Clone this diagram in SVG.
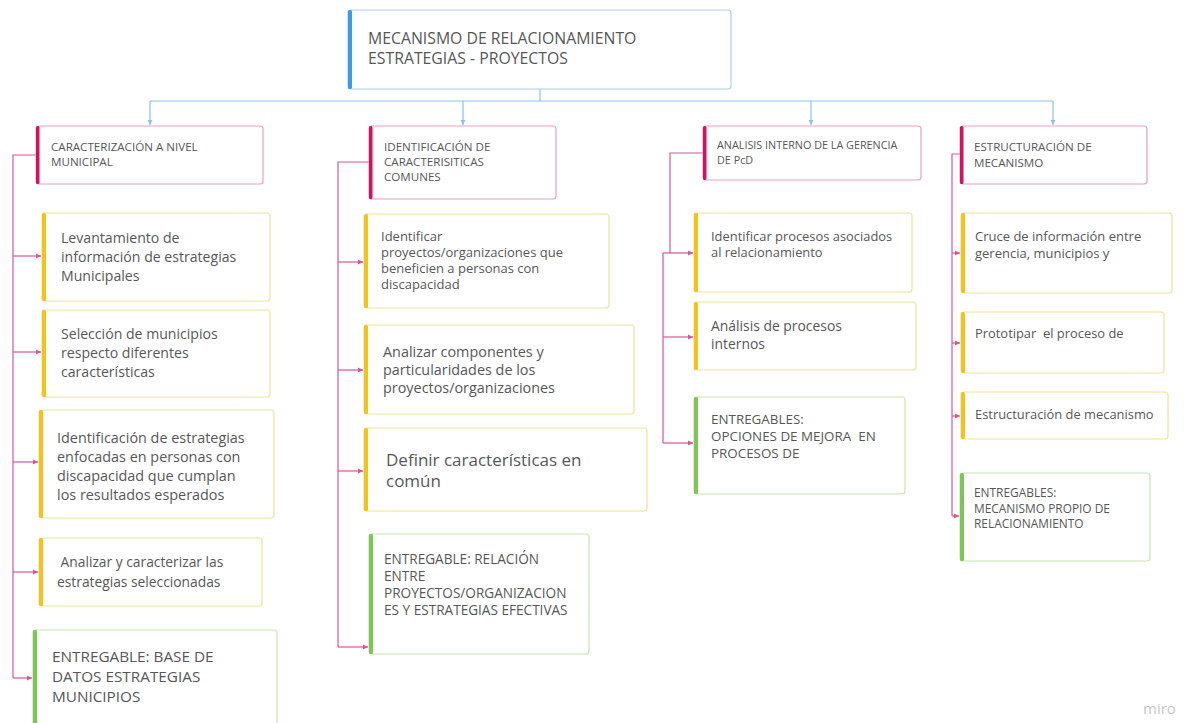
<svg xmlns="http://www.w3.org/2000/svg" width="1187" height="723" viewBox="0 0 1187 723">
<style>
.t{font-family:"Open Sans","Liberation Sans",sans-serif;fill:#575757;white-space:pre;}
.box{fill:#fff;stroke-width:1.2;}
.y{stroke:#efe29a;}
.g{stroke:#c8e4b2;}
.p{stroke:#e7a0c6;}
.b{stroke:#a9d0f0;}
.by{fill:#f2c31c;}
.bg{fill:#7cc654;}
.bp{fill:#d3115f;}
.bb{fill:#3d9be3;}
.pc{fill:none;stroke:#d9559a;stroke-width:1.2;}
.bc{fill:none;stroke:#8cc2ec;stroke-width:1.2;}
</style>
<defs>
<marker id="ap" markerWidth="6" markerHeight="6" refX="5" refY="3" orient="auto" markerUnits="userSpaceOnUse"><path d="M0,0.5 L5,3 L0,5.5 Z" fill="#d9559a"/></marker>
<marker id="ab" markerWidth="6" markerHeight="6" refX="5" refY="3" orient="auto" markerUnits="userSpaceOnUse"><path d="M0,0.5 L5,3 L0,5.5 Z" fill="#8cc2ec"/></marker>
</defs>
<rect width="1187" height="723" fill="#fff"/>
<g id="connectors">
<path class="bc" d="M540,89 V101"/>
<path class="bc" d="M150,101 H1053"/>
<path class="bc" d="M150,101 V125" marker-end="url(#ab)"/>
<path class="bc" d="M463,101 V125" marker-end="url(#ab)"/>
<path class="bc" d="M811,101 V125" marker-end="url(#ab)"/>
<path class="bc" d="M1053,101 V125" marker-end="url(#ab)"/>
<path class="pc" d="M36,155 H13 V678"/>
<path class="pc" d="M13,256 H41" marker-end="url(#ap)"/>
<path class="pc" d="M13,352 H41" marker-end="url(#ap)"/>
<path class="pc" d="M13,462 H38" marker-end="url(#ap)"/>
<path class="pc" d="M13,572 H38" marker-end="url(#ap)"/>
<path class="pc" d="M13,678 H32" marker-end="url(#ap)"/>
<path class="pc" d="M369,162 H338 V647"/>
<path class="pc" d="M338,262 H363" marker-end="url(#ap)"/>
<path class="pc" d="M338,370 H363" marker-end="url(#ap)"/>
<path class="pc" d="M338,471 H363" marker-end="url(#ap)"/>
<path class="pc" d="M338,647 H368" marker-end="url(#ap)"/>
<path class="pc" d="M703,153 H670 V253"/>
<path class="pc" d="M663,253 V443"/>
<path class="pc" d="M663,253 H693" marker-end="url(#ap)"/>
<path class="pc" d="M663,337 H693" marker-end="url(#ap)"/>
<path class="pc" d="M663,443 H693" marker-end="url(#ap)"/>
<path class="pc" d="M960,154 H952 V516"/>
<path class="pc" d="M952,253 H960" marker-end="url(#ap)"/>
<path class="pc" d="M952,343 H960" marker-end="url(#ap)"/>
<path class="pc" d="M952,416 H960" marker-end="url(#ap)"/>
<path class="pc" d="M952,516 H959" marker-end="url(#ap)"/>
</g>
<g id="root">
<rect class="box b" x="348" y="10" width="383" height="79" rx="3"/>
<rect class="bb" x="348" y="10" width="4" height="79" rx="1.5"/>
<text class="t" font-size="15.8" x="368" y="44">MECANISMO DE RELACIONAMIENTO</text>
<text class="t" font-size="15.8" x="368" y="64">ESTRATEGIAS - PROYECTOS</text>
</g>
<g id="h1">
<rect class="box p" x="36" y="126" width="227" height="58" rx="3"/>
<rect class="bp" x="36" y="126" width="3.5" height="58" rx="1.5"/>
<text class="t" font-size="11.6" x="51" y="151">CARACTERIZACIÓN A NIVEL</text>
<text class="t" font-size="11.6" x="51" y="166">MUNICIPAL</text>
</g>
<g id="n1a">
<rect class="box y" x="42" y="213" width="228" height="88" rx="3"/>
<rect class="by" x="42" y="213" width="4" height="88" rx="1.5"/>
<text class="t" font-size="14.1" x="61" y="243">Levantamiento de</text>
<text class="t" font-size="14.1" x="61" y="262">información de estrategias</text>
<text class="t" font-size="14.1" x="61" y="281">Municipales</text>
</g>
<g id="n1b">
<rect class="box y" x="42" y="310" width="228" height="87" rx="3"/>
<rect class="by" x="42" y="310" width="4" height="87" rx="1.5"/>
<text class="t" font-size="14.1" x="61" y="339">Selección de municipios</text>
<text class="t" font-size="14.1" x="61" y="358">respecto diferentes</text>
<text class="t" font-size="14.1" x="61" y="377">características</text>
</g>
<g id="n1c">
<rect class="box y" x="39" y="410" width="235" height="108" rx="3"/>
<rect class="by" x="39" y="410" width="4" height="108" rx="1.5"/>
<text class="t" font-size="14.4" x="57" y="443">Identificación de estrategias</text>
<text class="t" font-size="14.4" x="57" y="462">enfocadas en personas con</text>
<text class="t" font-size="14.4" x="57" y="481">discapacidad que cumplan</text>
<text class="t" font-size="14.4" x="57" y="500">los resultados esperados</text>
</g>
<g id="n1d">
<rect class="box y" x="39" y="538" width="223" height="68" rx="3"/>
<rect class="by" x="39" y="538" width="4" height="68" rx="1.5"/>
<text class="t" font-size="13.8" x="57" y="567"> Analizar y caracterizar las</text>
<text class="t" font-size="13.8" x="57" y="587">estrategias seleccionadas</text>
</g>
<g id="n1e">
<rect class="box g" x="33" y="630" width="244" height="100" rx="3"/>
<rect class="bg" x="33" y="630" width="4" height="100" rx="1.5"/>
<text class="t" font-size="15.3" x="52" y="662">ENTREGABLE: BASE DE</text>
<text class="t" font-size="15.3" x="52" y="682">DATOS ESTRATEGIAS</text>
<text class="t" font-size="15.3" x="52" y="702">MUNICIPIOS</text>
</g>
<g id="h2">
<rect class="box p" x="369" y="126" width="187" height="73" rx="3"/>
<rect class="bp" x="369" y="126" width="3.5" height="73" rx="1.5"/>
<text class="t" font-size="11.6" x="384" y="151">IDENTIFICACIÓN DE</text>
<text class="t" font-size="11.6" x="384" y="166">CARACTERISITICAS</text>
<text class="t" font-size="11.6" x="384" y="181">COMUNES</text>
</g>
<g id="n2a">
<rect class="box y" x="364" y="214" width="245" height="94" rx="3"/>
<rect class="by" x="364" y="214" width="4" height="94" rx="1.5"/>
<text class="t" font-size="13" x="381" y="241">Identificar</text>
<text class="t" font-size="13" x="381" y="257">proyectos/organizaciones que</text>
<text class="t" font-size="13" x="381" y="273">beneficien a personas con</text>
<text class="t" font-size="13" x="381" y="289">discapacidad</text>
</g>
<g id="n2b">
<rect class="box y" x="364" y="325" width="270" height="89" rx="3"/>
<rect class="by" x="364" y="325" width="4" height="89" rx="1.5"/>
<text class="t" font-size="14.4" x="383" y="357">Analizar componentes y</text>
<text class="t" font-size="14.4" x="383" y="375">particularidades de los</text>
<text class="t" font-size="14.4" x="383" y="393">proyectos/organizaciones</text>
</g>
<g id="n2c">
<rect class="box y" x="364" y="428" width="283" height="83" rx="3"/>
<rect class="by" x="364" y="428" width="4" height="83" rx="1.5"/>
<text class="t" font-size="17" x="386" y="466">Definir características en</text>
<text class="t" font-size="17" x="386" y="487">común</text>
</g>
<g id="n2d">
<rect class="box g" x="369" y="534" width="220" height="120" rx="3"/>
<rect class="bg" x="369" y="534" width="4" height="120" rx="1.5"/>
<text class="t" font-size="13.6" x="384" y="564">ENTREGABLE: RELACIÓN</text>
<text class="t" font-size="13.6" x="384" y="581">ENTRE</text>
<text class="t" font-size="13.6" x="384" y="598">PROYECTOS/ORGANIZACION</text>
<text class="t" font-size="13.6" x="384" y="615">ES Y ESTRATEGIAS EFECTIVAS</text>
</g>
<g id="h3">
<rect class="box p" x="703" y="126" width="218" height="54" rx="3"/>
<rect class="bp" x="703" y="126" width="3.5" height="54" rx="1.5"/>
<text class="t" font-size="10.8" x="717" y="149">ANALISIS INTERNO DE LA GERENCIA</text>
<text class="t" font-size="10.8" x="717" y="164">DE PcD</text>
</g>
<g id="n3a">
<rect class="box y" x="694" y="213" width="218" height="79" rx="3"/>
<rect class="by" x="694" y="213" width="4" height="79" rx="1.5"/>
<text class="t" font-size="12.9" x="711" y="241">Identificar procesos asociados</text>
<text class="t" font-size="12.9" x="711" y="257">al relacionamiento</text>
</g>
<g id="n3b">
<rect class="box y" x="694" y="302" width="222" height="68" rx="3"/>
<rect class="by" x="694" y="302" width="4" height="68" rx="1.5"/>
<text class="t" font-size="13.9" x="711" y="331">Análisis de procesos</text>
<text class="t" font-size="13.9" x="711" y="349">internos</text>
</g>
<g id="n3c">
<rect class="box g" x="694" y="397" width="211" height="97" rx="3"/>
<rect class="bg" x="694" y="397" width="4" height="97" rx="1.5"/>
<text class="t" font-size="13.4" x="711" y="424">ENTREGABLES:</text>
<text class="t" font-size="13.4" x="711" y="441">OPCIONES DE MEJORA  EN</text>
<text class="t" font-size="13.4" x="711" y="458">PROCESOS DE</text>
</g>
<g id="h4">
<rect class="box p" x="960" y="126" width="187" height="58" rx="3"/>
<rect class="bp" x="960" y="126" width="3.5" height="58" rx="1.5"/>
<text class="t" font-size="11.6" x="974" y="151">ESTRUCTURACIÓN DE</text>
<text class="t" font-size="11.6" x="974" y="167">MECANISMO</text>
</g>
<g id="n4a">
<rect class="box y" x="961" y="213" width="211" height="80" rx="3"/>
<rect class="by" x="961" y="213" width="4" height="80" rx="1.5"/>
<text class="t" font-size="13" x="975" y="241">Cruce de información entre</text>
<text class="t" font-size="13" x="975" y="258">gerencia, municipios y</text>
</g>
<g id="n4b">
<rect class="box y" x="961" y="312" width="203" height="61" rx="3"/>
<rect class="by" x="961" y="312" width="4" height="61" rx="1.5"/>
<text class="t" font-size="12.9" x="975" y="338">Prototipar  el proceso de</text>
</g>
<g id="n4c">
<rect class="box y" x="961" y="392" width="207" height="47" rx="3"/>
<rect class="by" x="961" y="392" width="4" height="47" rx="1.5"/>
<text class="t" font-size="12.9" x="975" y="419">Estructuración de mecanismo</text>
</g>
<g id="n4d">
<rect class="box g" x="960" y="473" width="190" height="88" rx="3"/>
<rect class="bg" x="960" y="473" width="4" height="88" rx="1.5"/>
<text class="t" font-size="11.9" x="974" y="497">ENTREGABLES:</text>
<text class="t" font-size="11.9" x="974" y="513">MECANISMO PROPIO DE</text>
<text class="t" font-size="11.9" x="974" y="528">RELACIONAMIENTO</text>
</g>
<text font-family="'Open Sans','Liberation Sans',sans-serif" font-size="15" fill="#c8c8c8" x="1143" y="714">miro</text>
</svg>
